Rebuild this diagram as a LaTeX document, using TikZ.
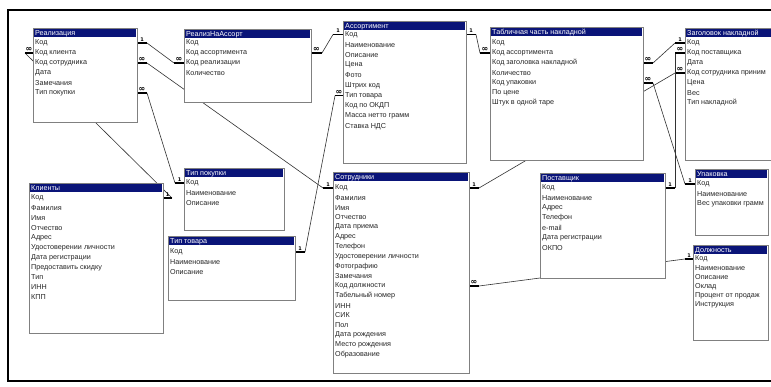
\documentclass[tikz,border=0pt]{standalone}
\usepackage{fontspec}
\setmainfont{Liberation Sans}
\newfontfamily\symf{DejaVu Sans}
\usetikzlibrary{calc,backgrounds}
\definecolor{navy}{RGB}{10,20,120}
\definecolor{bordergray}{RGB}{128,128,128}
\definecolor{linkgray}{RGB}{50,50,50}
\tikzset{
 tbox/.style={draw=bordergray, line width=0.8pt, fill=white, inner sep=0pt, outer sep=0pt},
 tbar/.style={fill=navy, inner sep=0pt, outer sep=0pt},
 ttext/.style={text=white, font=\fontsize{7.2}{8}\selectfont, inner sep=0pt},
 rtext/.style={text=black!85, font=\fontsize{7.2}{8}\selectfont, inner sep=0pt, anchor=west},
 lnk/.style={draw=linkgray, line width=0.6pt},
 stubl/.style={draw=black, line width=1.6pt},
 card/.style={font=\symf\bfseries\fontsize{5}{5}\selectfont, inner sep=0pt},
 frame/.style={draw=black, line width=2pt},
}
\newcommand\manysym{{\fontsize{8}{8}\selectfont ∞}}
\newcommand\erd[9]{%
 \pgfmathsetmacro\erw{#4-#2}%
 \pgfmathsetmacro\erh{#5-#3}%
 \node[tbox, minimum width=\erw pt, minimum height=\erh pt, anchor=north west] (#1) at (#2,#3) {};
 \node[tbar, minimum width=\erw pt-2pt, minimum height=8.5pt, anchor=north west] (#1-t) at (#2+1,#3+1) {};
 \node[ttext, anchor=west] (#1-h) at (#2+2,#3+5.3) {#6};
 \foreach \rr [count=\ii] in {#9} {
   \pgfmathsetmacro\ery{#7+(\ii-1)*#8}
   \node[rtext] (#1-\ii) at (#2+2,\ery) {\rr};
 }
}
\newcommand\rel[7]{%
 \coordinate (#1-a) at (#2);
 \coordinate (#1-d) at (#5);
 \coordinate (#1-b) at ($(#1-a)+(#3,0)$);
 \coordinate (#1-c) at ($(#1-d)+(#6,0)$);
 \draw[lnk] (#1-b) -- (#1-c);
 \draw[stubl] (#1-a) -- (#1-b);
 \draw[stubl] (#1-d) -- (#1-c);
 \node[card] (#1-l1) at ($(#1-a)!0.5!(#1-b)+(0,-3.5)$) {#4};
 \node[card] (#1-l2) at ($(#1-d)!0.5!(#1-c)+(0,-3.5)$) {#7};
}
\begin{document}
\begin{tikzpicture}[x=1pt,y=-1pt]
\useasboundingbox (0,0) rectangle (771,387);
\clip (0,0) rectangle (771,387);

\erd{real}{33}{28}{137}{122}{Реализация}{43}{10}{Код,Код клиента,Код сотрудника,Дата,Замечания,Тип покупки}
\erd{rna}{184}{29}{311}{102}{РеализНаАссорт}{43}{10}{Код,Код ассортимента,Код реализации,Количество}
\erd{asr}{343}{21}{466}{163}{Ассортимент}{34.5}{10.2}{Код,Наименование,Описание,Цена,Фото,Штрих код,Тип товара,Код по ОКДП,Масса нетто грамм,Ставка НДС}
\erd{tch}{490}{27}{643}{160}{Табличная часть накладной}{43}{10}{Код,Код ассортимента,Код заголовка накладной,Количество,Код упаковки,По цене,Штук в одной таре}
\erd{zag}{685}{28}{790}{160}{Заголовок накладной}{43}{10}{Код,Код поставщика,Дата,Код сотрудника приним,Цена,Вес,Тип накладной}
\erd{kli}{29}{183}{163}{333}{Клиенты}{198}{9.9}{Код,Фамилия,Имя,Отчество,Адрес,Удостоверении личности,Дата регистрации,Предоставить скидку,Тип,ИНН,КПП}
\erd{tpk}{184}{168}{284}{230}{Тип покупки}{183}{10}{Код,Наименование,Описание}
\erd{ttv}{168}{236}{295}{300}{Тип товара}{252}{9.8}{Код,Наименование,Описание}
\erd{sot}{333}{172}{469}{373}{Сотрудники}{188}{9.8}{Код,Фамилия,Имя,Отчество,Дата приема,Адрес,Телефон,Удостоверении личности,Фотографию,Замечания,Код должности,Табельный номер,ИНН,СИК,Пол,Дата рождения,Место рождения,Образование}
\erd{pos}{540}{173}{665}{278}{Поставщик}{188}{10}{Код,Наименование,Адрес,Телефон,e-mail,Дата регистрации,ОКПО}
\erd{upk}{695}{169}{768}{235}{Упаковка}{184}{9.7}{Код,Наименование,Вес упаковки грамм}
\erd{dol}{693}{245}{768}{340}{Должность}{259}{9.2}{Код,Наименование,Описание,Оклад,Процент от продаж,Инструкция}

\begin{pgfonlayer}{background}
\fill[white] (0,0) rectangle (771,387);
\rel{r1}{real.east|-real-1}{10}{1}{rna.west|-rna-3}{-10}{\manysym}
\rel{r2}{real.east|-real-3}{10}{\manysym}{sot.west|-sot-1}{-10}{1}
\rel{r3}{real.east|-real-6}{10}{\manysym}{tpk.west|-tpk-1}{-9}{1}
\rel{r4}{real.west|-real-2}{-8}{\manysym}{kli.east|-kli-1}{9}{1}
\rel{r5}{rna.east|-rna-2}{11}{\manysym}{asr.west|-asr-1}{-10}{1}
\rel{r6}{asr.east|-asr-1}{10}{1}{tch.west|-tch-2}{-10}{\manysym}
\rel{r7}{ttv.east|-ttv-1}{10}{1}{asr.west|-asr-7}{-8}{\manysym}
\rel{r8}{zag.west|-zag-1}{-10}{1}{tch.east|-tch-3}{10}{\manysym}
\rel{r9}{tch.east|-tch-5}{10}{\manysym}{upk.west|-upk-1}{-10}{1}
\rel{r10}{sot.east|-sot-1}{10}{1}{zag.west|-zag-4}{-10}{\manysym}
\rel{r11}{pos.east|-pos-1}{10}{1}{zag.west|-zag-2}{-10}{\manysym}
\rel{r12}{sot.east|-sot-11}{10}{\manysym}{dol.west|-dol-1}{-8}{1}
\end{pgfonlayer}

\draw[frame] (8,10) rectangle (790,381);
\end{tikzpicture}
\end{document}
